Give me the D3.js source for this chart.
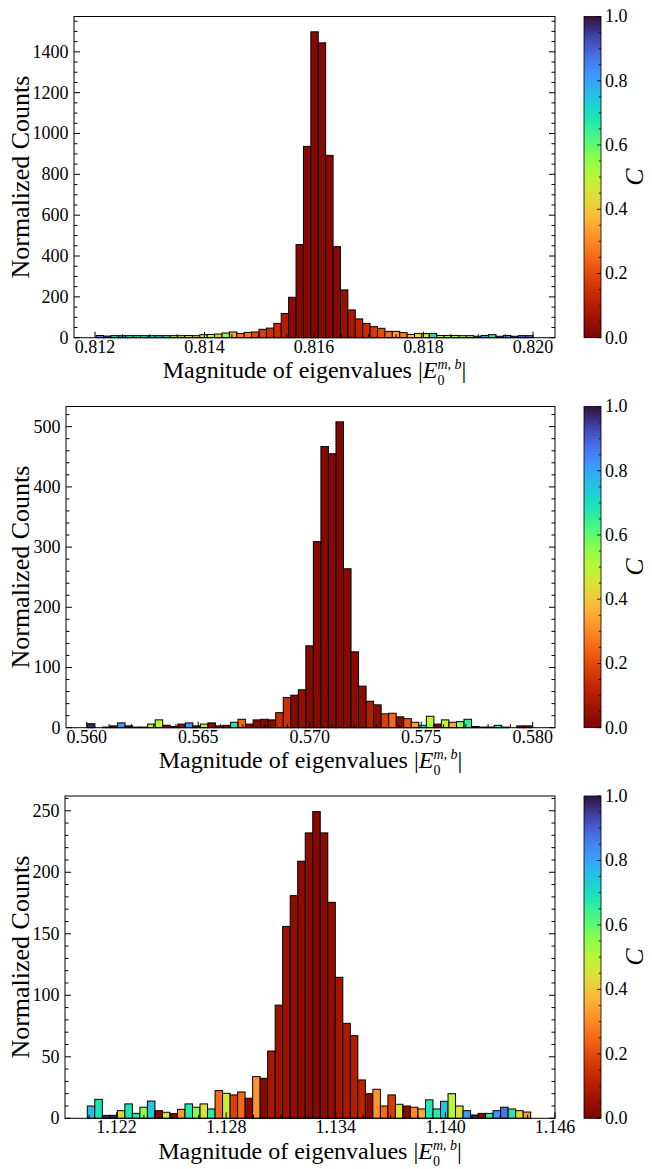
<!DOCTYPE html>
<html><head><meta charset="utf-8">
<script src="https://cdn.jsdelivr.net/npm/d3@7"></script>
<style>html,body{margin:0;padding:0;background:#fff}svg{display:block}</style>
</head><body><svg id="chart" width="652" height="1169"></svg>
<script>
// ---------------- data ----------------
const counts1 = [11,8,10,10,10,10,10,10,10,10,10,10,11,10,15,16,18,23,28,21,26,28,41,47,70,118,198,456,937,1498,1444,893,446,234,136,92,70,54,46,31,31,25,16,21,20,21,11,11,11,10,10,7,11,15,7,11,7,10,10];
const cvals1 = [0.85,0.95,0.68,0.85,0.68,0.7,0.68,0.7,0.75,0.68,0.45,0.55,0.42,0.4,0.47,0.5,0.4,0.55,0.35,0.27,0.27,0.2,0.18,0.15,0.14,0.1,0.03,0.02,0.02,0.02,0.02,0.02,0.02,0.05,0.08,0.12,0.14,0.17,0.2,0.25,0.33,0.28,0.4,0.43,0.45,0.72,0.48,0.55,0.52,0.5,0.55,0.65,0.8,0.68,0.9,0.82,0.95,0.9,0.88];
const binRange1 = [0.81202, 0.82000];
const xDomain1 = [0.811616, 0.820402];
const xTicks1 = [0.812, 0.814, 0.816, 0.818, 0.820];
const yTicks1 = [0, 200, 400, 600, 800, 1000, 1200, 1400];
const yMax1 = 1573;

const counts2 = [6.6,0,1,3,8,3,1,1,6,13,4,2,6,8,3,6,8,3,4,9,14,6,13,14,13,25,50,54,63,136,309,467,455,508,264,126,69,44,38,23,24,18,15,9,4,19,6,13,9,10,14,2,1,1,4,1,0,3,3];
const cvals2 = [0.97,0,0.02,0.02,0.82,0.02,0.02,0.02,0.5,0.5,0.02,0.02,0.02,0.82,0.02,0.5,0.02,0.02,0.02,0.68,0.25,0.02,0.02,0.02,0.02,0.14,0.15,0.02,0.04,0.02,0.02,0.02,0.02,0.02,0.02,0.03,0.03,0.1,0.03,0.18,0.25,0.02,0.22,0.33,0.68,0.5,0.02,0.5,0.35,0.55,0.65,0.02,0.02,0.02,0.68,0.02,0,0.02,0.02];
const binRange2 = [0.56003, 0.57996];
const xDomain2 = [0.55907, 0.58100];
const xTicks2 = [0.560, 0.565, 0.570, 0.575, 0.580];
const yTicks2 = [0, 100, 200, 300, 400, 500];
const yMax2 = 533.5;

const counts3 = [10,15.4,2.4,2.4,6.2,11.7,4,9,14,6.2,4.9,3.8,7.3,11.7,9,11.7,7.6,22.5,20.3,19,21.4,16.3,33.9,32.5,54.7,92,156,181,209,232,249.3,232,175.6,114.6,77.2,67.2,31.2,20,23.6,10,19,11.4,10,9,7.6,15,7.6,13.8,20,10,6.2,2.7,4,4,6.2,9,7.6,6.2,5.1];
const cvals3 = [0.77,0.68,0.97,0.97,0.42,0.68,0.68,0.56,0.75,0.02,0.48,0.02,0.33,0.67,0.57,0.45,0.67,0.25,0.48,0.18,0.25,0.02,0.32,0.02,0.08,0.06,0.06,0.04,0.03,0.03,0.02,0.03,0.04,0.07,0.09,0.1,0.12,0.03,0.32,0.25,0.17,0.45,0.02,0.3,0.35,0.68,0.67,0.75,0.5,0.45,0.82,0.97,0.02,0.67,0.82,0.87,0.67,0.42,0.33];
const binRange3 = [1.12040, 1.14467];
const xDomain3 = [1.11918, 1.14600];
const xTicks3 = [1.122, 1.128, 1.134, 1.140, 1.146];
const yTicks3 = [0, 50, 100, 150, 200, 250];
const yMax3 = 262;

const cbarTicks = [0.0, 0.2, 0.4, 0.6, 0.8, 1.0];
const yLabelText = "Normalized Counts";
const cbarLabelText = "C";

// ---------------- colormap (turbo, reversed) ----------------
const turboStops = ["#30123b","#4143a7","#4771e9","#3e9bfe","#22c5e2","#1ae4b6","#46f884","#88fe4e","#b9f635","#e1dd37","#fbb938","#fe9029","#f56918","#e04209","#c22402","#9f1301","#7a0403"];
const turbo = d3.scaleLinear().domain(d3.range(turboStops.length).map(i => i/(turboStops.length-1))).range(turboStops).interpolate(d3.interpolateRgb).clamp(true);
const cmap = c => turbo(1 - c);

// ---------------- layout ----------------
const FONT = "'Liberation Serif', 'DejaVu Serif', serif";
const svg = d3.select("#chart");
const panels = [
  {counts: counts1, cvals: cvals1, binRange: binRange1, xDomain: xDomain1, xTicks: xTicks1, yTicks: yTicks1, yMax: yMax1, xMinorDiv: 4, yMinorDiv: 4,
   left: 74, right: 555, top: 16.5, bottom: 337.7},
  {counts: counts2, cvals: cvals2, binRange: binRange2, xDomain: xDomain2, xTicks: xTicks2, yTicks: yTicks2, yMax: yMax2, xMinorDiv: 5, yMinorDiv: 5,
   left: 66, right: 555, top: 406.5, bottom: 727.7},
  {counts: counts3, cvals: cvals3, binRange: binRange3, xDomain: xDomain3, xTicks: xTicks3, yTicks: yTicks3, yMax: yMax3, xMinorDiv: 4, yMinorDiv: 5,
   left: 65, right: 555, top: 796, bottom: 1118.3}
];
const cbLeft = 584, cbRight = 601;
const majorLen = 6, minorLen = 3.5;

// gradient
const defs = svg.append("defs");
const grad = defs.append("linearGradient").attr("id","cbgrad").attr("x1",0).attr("y1",1).attr("x2",0).attr("y2",0);
d3.range(0, 1.0001, 0.02).forEach(t => grad.append("stop").attr("offset", t).attr("stop-color", cmap(t)));

function minorTicks(majors, div, domain) {
  const step = (majors[1] - majors[0]) / div;
  const out = [];
  const start = majors[0] - Math.ceil((majors[0]-domain[0])/step)*step;
  for (let v = start; v <= domain[1] + 1e-12; v += step) {
    const k = Math.round((v - majors[0]) / step);
    if (k % div !== 0 && v >= domain[0] && v <= domain[1]) out.push(v);
  }
  return out;
}

panels.forEach(p => {
  const g = svg.append("g");
  const x = d3.scaleLinear().domain(p.xDomain).range([p.left, p.right]);
  const y = d3.scaleLinear().domain([0, p.yMax]).range([p.bottom, p.top]);
  const n = p.counts.length;
  const bw = (p.binRange[1] - p.binRange[0]) / n;
  const bins = p.counts.map((v, i) => ({x0: p.binRange[0] + i*bw, x1: p.binRange[0] + (i+1)*bw, v, c: p.cvals[i]}));

  // bars
  g.append("g").selectAll("rect").data(bins.filter(d => d.v > 0)).join("rect")
    .attr("x", d => x(d.x0)).attr("width", d => x(d.x1) - x(d.x0))
    .attr("y", d => y(d.v)).attr("height", d => y(0) - y(d.v))
    .attr("fill", d => cmap(d.c)).attr("stroke", "#000").attr("stroke-width", 1);

  // ticks (inward) on left, right, bottom
  const tg = g.append("g").attr("stroke", "#000").attr("stroke-width", 1);
  const yMin = minorTicks(p.yTicks, p.yMinorDiv, [0, p.yMax]);
  p.yTicks.forEach(v => {
    tg.append("line").attr("x1", p.left).attr("x2", p.left + majorLen).attr("y1", y(v)).attr("y2", y(v));
    tg.append("line").attr("x1", p.right).attr("x2", p.right - majorLen).attr("y1", y(v)).attr("y2", y(v));
  });
  yMin.forEach(v => {
    tg.append("line").attr("x1", p.left).attr("x2", p.left + minorLen).attr("y1", y(v)).attr("y2", y(v));
    tg.append("line").attr("x1", p.right).attr("x2", p.right - minorLen).attr("y1", y(v)).attr("y2", y(v));
  });
  const xMin = minorTicks(p.xTicks, p.xMinorDiv, p.xDomain);
  p.xTicks.forEach(v => {
    tg.append("line").attr("x1", x(v)).attr("x2", x(v)).attr("y1", p.bottom).attr("y2", p.bottom - majorLen);
  });
  xMin.forEach(v => {
    tg.append("line").attr("x1", x(v)).attr("x2", x(v)).attr("y1", p.bottom).attr("y2", p.bottom - minorLen);
  });

  // frame
  g.append("rect").attr("x", p.left).attr("y", p.top).attr("width", p.right - p.left).attr("height", p.bottom - p.top)
    .attr("fill", "none").attr("stroke", "#000").attr("stroke-width", 1);

  // tick labels
  const fmtY = d3.format("d"), fmtX = d3.format(".3f");
  g.append("g").selectAll("text").data(p.yTicks).join("text")
    .attr("x", p.left - 5.5).attr("y", d => y(d)).attr("dy", "0.33em")
    .attr("text-anchor", "end").attr("font-family", FONT).attr("font-size", 18).attr("fill", "#000")
    .text(fmtY);
  g.append("g").selectAll("text").data(p.xTicks).join("text")
    .attr("x", d => x(d)).attr("y", p.bottom + 15)
    .attr("text-anchor", "middle").attr("font-family", FONT).attr("font-size", 18).attr("fill", "#000")
    .text(fmtX);

  // y label
  const ym = (p.top + p.bottom) / 2;
  g.append("text").attr("transform", `translate(20,${ym}) rotate(-90)`).attr("dy", "0.35em")
    .attr("text-anchor", "middle").attr("font-family", FONT).attr("font-size", 26).attr("fill", "#000")
    .text(yLabelText);

  // x label
  const xl = g.append("text").attr("x", (p.left + p.right) / 2).attr("y", p.bottom + 40.7)
    .attr("text-anchor", "middle").attr("font-family", FONT).attr("font-size", 24).attr("fill", "#000");
  xl.append("tspan").text("Magnitude of eigenvalues |");
  xl.append("tspan").attr("font-style", "italic").text("E");
  xl.append("tspan").attr("font-size", 14).attr("dy", 6.8).text("0");
  xl.append("tspan").attr("font-size", 14).attr("font-style", "italic").attr("dx", -7).attr("dy", -15.8).text("m, b");
  xl.append("tspan").attr("dy", 9).text("|");

  // colorbar
  const cy = d3.scaleLinear().domain([0, 1]).range([p.bottom, p.top]);
  g.append("rect").attr("x", cbLeft).attr("y", p.top).attr("width", cbRight - cbLeft).attr("height", p.bottom - p.top)
    .attr("fill", "url(#cbgrad)").attr("stroke", "#000").attr("stroke-width", 0.8);
  const cbg = g.append("g").attr("stroke", "#000").attr("stroke-width", 0.8);
  cbarTicks.forEach(v => cbg.append("line").attr("x1", cbRight).attr("x2", cbRight - 4).attr("y1", cy(v)).attr("y2", cy(v)));
  minorTicks(cbarTicks, 4, [0, 1]).forEach(v => cbg.append("line").attr("x1", cbRight).attr("x2", cbRight - 2.2).attr("y1", cy(v)).attr("y2", cy(v)));
  g.append("g").selectAll("text").data(cbarTicks).join("text")
    .attr("x", cbRight + 4).attr("y", d => cy(d)).attr("dy", "0.33em")
    .attr("font-family", FONT).attr("font-size", 18).attr("fill", "#000")
    .text(d3.format(".1f"));
  g.append("text").attr("transform", `translate(634,${ym}) rotate(-90)`).attr("dy", "0.35em")
    .attr("text-anchor", "middle").attr("font-family", FONT).attr("font-size", 26).attr("font-style", "italic").attr("fill", "#000")
    .text(cbarLabelText);
});
</script>
</body></html>
